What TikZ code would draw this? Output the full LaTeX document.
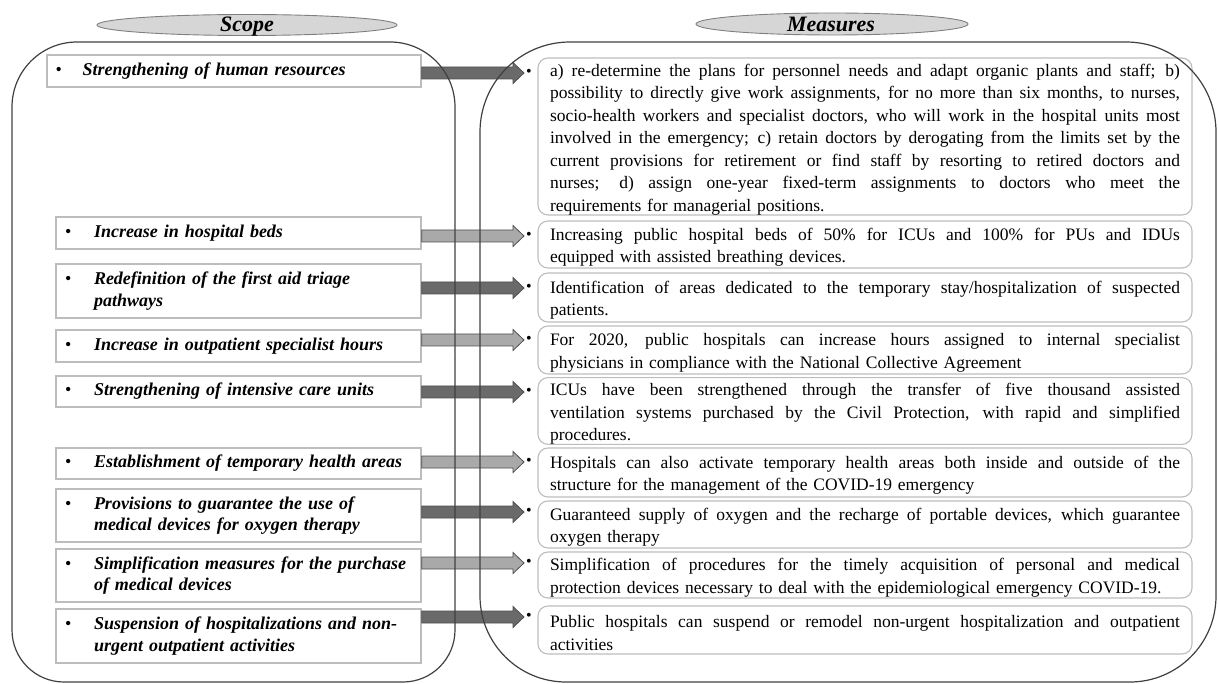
\documentclass[tikz,border=0pt]{standalone}
\usepackage{fontspec}
\setmainfont{Liberation Serif}
\usetikzlibrary{positioning,calc}

\definecolor{framegray}{HTML}{404040}
\definecolor{boxgray}{HTML}{BDBDBD}
\definecolor{headfill}{HTML}{D6D6D6}
\definecolor{headline}{HTML}{7F7F7F}
\definecolor{arrowline}{HTML}{505050}
\definecolor{darkarrow}{HTML}{6A6A6A}
\definecolor{lightarrow}{HTML}{A9A9A9}

\newcommand{\scopeitem}[2][29pt]{\makebox[#1][l]{\normalfont\textbullet}\begin{tabular}[t]{@{}l@{}}#2\end{tabular}}
\newcommand{\fullline}[1]{\hbox to 630pt{\spaceskip=0pt \xspaceskip=0pt\relax\rule{0pt}{18pt}#1}\par}
\newcommand{\shortline}[1]{\hbox{\rule{0pt}{18pt}#1}\par}
\newcommand{\fatarrow}[3]{%
  \filldraw[fill=#3, draw=arrowline, line width=0.8pt]
    let \p1=(#1), \p2=(#2) in
    ({\x1},{\y1+6pt}) -- ({\x2-13pt},{\y1+6pt}) -- ({\x2-13pt},{\y1+10.5pt}) -- ({\x2-2pt},{\y1})
    -- ({\x2-13pt},{\y1-10.5pt}) -- ({\x2-13pt},{\y1-6pt}) -- ({\x1},{\y1-6pt}) -- cycle;}

\begin{document}
\begin{tikzpicture}[x=1pt,y=-1pt,
    scopebox/.style={draw=boxgray, line width=1.3pt, text width=347pt, inner xsep=9pt, inner ysep=0pt,
      align=left, font=\fontsize{18}{21.5}\selectfont\bfseries\itshape},
    measurebox/.style={draw=boxgray, line width=1.1pt, rounded corners=10pt, text width=630pt,
      inner xsep=12pt, inner ysep=0pt, font=\fontsize{17.5}{22.5}\selectfont},
    bulletdot/.style={inner sep=0pt, font=\fontsize{16}{16}\selectfont},
    headtext/.style={anchor=base, font=\fontsize{22}{22}\selectfont\bfseries\itshape},
    bigframe/.style={draw=framegray, line width=1.2pt}]
  \useasboundingbox (0,0) rectangle (1218,684);

  \filldraw[fill=headfill, draw=headline, line width=0.9pt] (247,25) ellipse [x radius=150, y radius=10.5];
  \filldraw[fill=headfill, draw=headline, line width=0.9pt] (832,24) ellipse [x radius=136, y radius=11];
  \node[headtext] (scope) at (247,32) {Scope};
  \node[headtext] (measures) at (831,32) {Measures};

  \node[scopebox, text width=357pt, inner xsep=8.5pt, minimum height=32] (s1) at (234,71) {\scopeitem[27pt]{Strengthening of human resources}};
  \node[scopebox, minimum height=32] (s2) at (238.5,233) {\scopeitem{Increase in hospital beds}};
  \node[scopebox, minimum height=54] (s3) at (238.5,291) {\scopeitem{Redefinition of the first aid triage\\pathways}};
  \node[scopebox, minimum height=32] (s4) at (238.5,346) {\scopeitem{Increase in outpatient specialist hours}};
  \node[scopebox, minimum height=31] (s5) at (238.5,391.5) {\scopeitem{Strengthening of intensive care units}};
  \node[scopebox, minimum height=31] (s6) at (238.5,463.5) {\scopeitem{Establishment of temporary health areas}};
  \node[scopebox, minimum height=53] (s7) at (238.5,515.5) {\scopeitem{Provisions to guarantee the use of\\medical devices for oxygen therapy}};
  \node[scopebox, minimum height=53] (s8) at (238.5,575.5) {\scopeitem{Simplification measures for the purchase\\of medical devices}};
  \node[scopebox, minimum height=54] (s9) at (238.5,636) {\scopeitem{Suspension of hospitalizations and non-\\urgent outpatient activities}};

  \node[measurebox, minimum height=157] (m1) at (865,136.5) {%
    \fullline{a) re-determine the plans for personnel needs and adapt organic plants and staff; b)}
    \fullline{possibility to directly give work assignments, for no more than six months, to nurses,}
    \fullline{socio-health workers and specialist doctors, who will work in the hospital units most}
    \fullline{involved in the emergency; c) retain doctors by derogating from the limits set by the}
    \fullline{current provisions for retirement or find staff by resorting to retired doctors and}
    \fullline{nurses; d) assign one-year fixed-term assignments to doctors who meet the}
    \shortline{requirements for managerial positions.}};
  \node[measurebox, minimum height=47] (m2) at (865,244.5) {%
    \fullline{Increasing public hospital beds of 50\% for ICUs and 100\% for PUs and IDUs}
    \shortline{equipped with assisted breathing devices.}};
  \node[measurebox, minimum height=49] (m3) at (865,297.5) {%
    \fullline{Identification of areas dedicated to the temporary stay/hospitalization of suspected}
    \shortline{patients.}};
  \node[measurebox, minimum height=48] (m4) at (865,350) {%
    \fullline{For 2020, public hospitals can increase hours assigned to internal specialist}
    \shortline{physicians in compliance with the National Collective Agreement}};
  \node[measurebox, minimum height=62] (m5) at (865,411) {%
    \fullline{ICUs have been strengthened through the transfer of five thousand assisted}
    \fullline{ventilation systems purchased by the Civil Protection, with rapid and simplified}
    \shortline{procedures.}};
  \node[measurebox, minimum height=49] (m6) at (865,472.5) {%
    \fullline{Hospitals can also activate temporary health areas both inside and outside of the}
    \shortline{structure for the management of the COVID-19 emergency}};
  \node[measurebox, minimum height=47] (m7) at (865,524.5) {%
    \fullline{Guaranteed supply of oxygen and the recharge of portable devices, which guarantee}
    \shortline{oxygen therapy}};
  \node[measurebox, minimum height=46] (m8) at (865,575) {%
    \fullline{Simplification of procedures for the timely acquisition of personal and medical}
    \shortline{protection devices necessary to deal with the epidemiological emergency COVID-19.}};
  \node[measurebox, minimum height=48] (m9) at (865,630) {%
    \fullline{Public hospitals can suspend or remodel non-urgent hospitalization and outpatient}
    \shortline{activities}};

  \node[bulletdot] (b1) at (529,73) {\textbullet};
  \node[bulletdot] (b2) at (529,236) {\textbullet};
  \node[bulletdot] (b3) at (529,288) {\textbullet};
  \node[bulletdot] (b4) at (529,340) {\textbullet};
  \node[bulletdot] (b5) at (529,392) {\textbullet};
  \node[bulletdot] (b6) at (529,462) {\textbullet};
  \node[bulletdot] (b7) at (529,512) {\textbullet};
  \node[bulletdot] (b8) at (529,563) {\textbullet};
  \node[bulletdot] (b9) at (529,617) {\textbullet};

  \fatarrow{s1.east |- b1}{b1.west}{darkarrow}
  \fatarrow{s2.east |- b2}{b2.west}{lightarrow}
  \fatarrow{s3.east |- b3}{b3.west}{darkarrow}
  \fatarrow{s4.east |- b4}{b4.west}{lightarrow}
  \fatarrow{s5.east |- b5}{b5.west}{darkarrow}
  \fatarrow{s6.east |- b6}{b6.west}{lightarrow}
  \fatarrow{s7.east |- b7}{b7.west}{darkarrow}
  \fatarrow{s8.east |- b8}{b8.west}{lightarrow}
  \fatarrow{s9.east |- b9}{b9.west}{darkarrow}

  \draw[bigframe, rounded corners=65pt] (12,360) |- (455,42) -- (455,360);
  \draw[bigframe, rounded corners=52pt] (12,360) |- (455,682) -- (455,360);
  \draw[bigframe, rounded corners=90pt] (480,360) |- (1216,42) -- (1216,360);
  \draw[bigframe, rounded corners=86pt] (480,360) |- (1216,682) -- (1216,360);
\end{tikzpicture}
\end{document}
